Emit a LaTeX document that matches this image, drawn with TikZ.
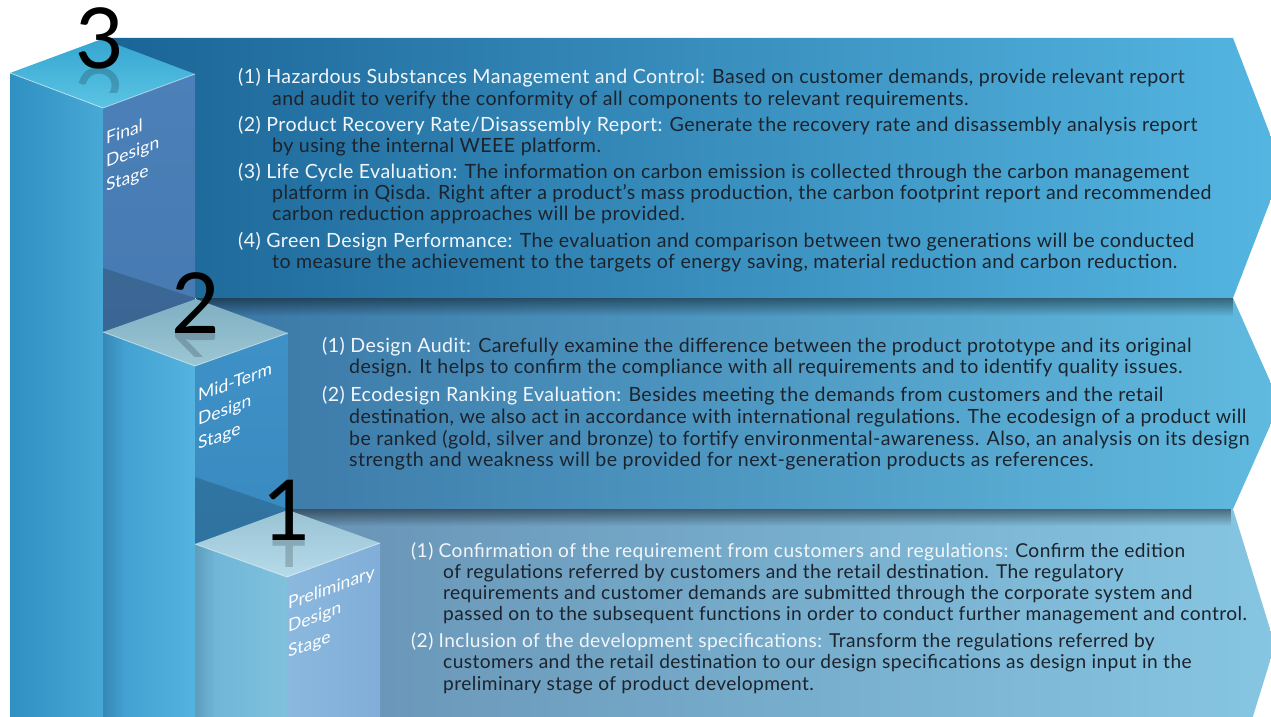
\documentclass[tikz,border=0pt]{standalone}
\usepackage{fontspec}
\setmainfont{Lato}
\newfontfamily\bodyfont[LetterSpace=2.2]{Lato}
\usetikzlibrary{fadings}
\definecolor{bthreel}{HTML}{1A6496}
\definecolor{bthreer}{HTML}{55B6E2}
\definecolor{btwol}{HTML}{3B76A5}
\definecolor{btwor}{HTML}{60BADF}
\definecolor{bonel}{HTML}{6893B5}
\definecolor{boner}{HTML}{86C6E2}
\definecolor{pthreeL}{HTML}{2F90C2}
\definecolor{pthreeLb}{HTML}{48A8D6}
\definecolor{pthreeR}{HTML}{4B80B8}
\definecolor{pthreeRb}{HTML}{3F70A6}
\definecolor{pthreeT}{HTML}{35A6D0}
\definecolor{pthreeTb}{HTML}{5CC4E4}
\definecolor{ptwoL}{HTML}{3E9CCF}
\definecolor{ptwoLb}{HTML}{55B3DF}
\definecolor{ptwoR}{HTML}{3E91C6}
\definecolor{ptwoRb}{HTML}{3583BA}
\definecolor{ptwoT}{HTML}{7FAFC2}
\definecolor{ptwoTb}{HTML}{9CC6D4}
\definecolor{poneL}{HTML}{6CB3D6}
\definecolor{poneLb}{HTML}{80C1DD}
\definecolor{poneR}{HTML}{8AB8DE}
\definecolor{poneRb}{HTML}{80AED8}
\definecolor{poneT}{HTML}{98C2D3}
\definecolor{poneTb}{HTML}{B6DBEA}
\definecolor{titlec}{HTML}{F2F6FA}
\definecolor{bodyc}{HTML}{1C232C}
\newcommand\ttl[1]{\textcolor{titlec}{#1}}
\begin{document}
\begin{tikzpicture}[x=1pt,y=-1pt,
  ln/.style={anchor=base west, inner sep=0pt, text=bodyc, font=\bodyfont\fontsize{19.6}{22}\selectfont},
  lnsmall/.style={ln, font=\bodyfont\fontsize{19.15}{22}\selectfont},
  stagelbl/.style={anchor=base west, inner sep=0pt, text=white, font=\fontsize{17.5}{20}\selectfont, transform shape},
  bignum/.style={anchor=base, inner sep=0pt, text=black, font=\fontsize{84}{84}\selectfont},
  refl/.style={anchor=base, inner sep=0pt, text=black, opacity=0.18, font=\fontsize{84}{84}\selectfont, yscale=-1, transform shape},
  edge/.style={draw=white, draw opacity=0.55, line width=0.8pt},
  topshadow/.style={fill=black, path fading=south, fill opacity=0.45},
  faceshadow/.style={fill=black, fill opacity=0.16},
  leftedge/.style={fill=black, path fading=east, fill opacity=0.12}
]
\useasboundingbox (0,0) rectangle (1271,717);
\clip (0,0) rectangle (1271,717);
\fill[white] (0,0) rectangle (1271,717);

% ---------- band 3 ----------
\path[left color=bthreel, right color=bthreer] (102,38) -- (1233,38) -- (1283,168) -- (1233,298) -- (102,298) -- cycle;

% ---------- pillar 3 ----------
\path[left color=pthreeL, right color=pthreeLb] (10,73) -- (103,108) -- (103,717) -- (10,717) -- cycle;
\path[top color=pthreeR, bottom color=pthreeRb] (103,108) -- (195,74) -- (195,717) -- (103,717) -- cycle;
\path[faceshadow] (103,268) -- (195,298) -- (195,717) -- (103,717) -- cycle;
\path[top color=pthreeT, bottom color=pthreeTb] (10,73) -- (102,39) -- (195,74) -- (103,108) -- cycle;
\draw[edge] (10,73) -- (103,108) -- (195,74);

% ---------- band 2 ----------
\path[left color=btwol, right color=btwor] (196,298) -- (1233,298) -- (1280,403.5) -- (1233,509) -- (196,509) -- cycle;
\path[topshadow] (196,298) rectangle (1233,316);

% ---------- pillar 2 ----------
\path[left color=ptwoL, right color=ptwoLb] (103,332) -- (195,366) -- (195,717) -- (103,717) -- cycle;
\path[leftedge] (103,332) rectangle (125,717);
\path[top color=ptwoR, bottom color=ptwoRb] (195,366) -- (288,333) -- (288,717) -- (195,717) -- cycle;
\path[faceshadow] (195,477) -- (288,509) -- (288,717) -- (195,717) -- cycle;
\path[top color=ptwoT, bottom color=ptwoTb] (103,332) -- (196,299) -- (288,333) -- (195,366) -- cycle;
\draw[edge] (103,332) -- (195,366) -- (288,333);

% ---------- band 1 ----------
\path[left color=bonel, right color=boner] (288,509) -- (1233,509) -- (1275,645) -- (1233,781) -- (288,781) -- cycle;
\path[topshadow] (288,509) rectangle (1233,526);

% ---------- pillar 1 ----------
\path[left color=poneL, right color=poneLb] (195,544) -- (287,577) -- (287,717) -- (195,717) -- cycle;
\path[leftedge] (195,544) rectangle (215,717);
\path[left color=poneR, right color=poneRb] (287,577) -- (380,543) -- (380,717) -- (287,717) -- cycle;
\path[top color=poneT, bottom color=poneTb] (195,544) -- (288,510) -- (380,543) -- (287,577) -- cycle;
\draw[edge] (195,544) -- (287,577) -- (380,543);

% ---------- big numbers with reflections ----------
\begin{scope}
  \clip (60,68) rectangle (140,92);
  \node[refl] (r3) at (100,68) {3};
\end{scope}
\node[bignum] (n3) at (100,68) {3};
\begin{scope}
  \clip (150,333) rectangle (240,356);
  \node[refl] (r2) at (196,333) {2};
\end{scope}
\node[bignum] (n2) at (196,333) {2};
\begin{scope}
  \clip (260,540) rectangle (315,566);
  \node[refl] (r1) at (287,540) {1};
\end{scope}
\node[bignum] (n1) at (287,540) {1};

% ---------- stage labels ----------
\begin{scope}[shift={(106,145)}, yslant=0.37]
  \node[stagelbl] (s3a) at (0,0) {Final};
  \node[stagelbl] (s3b) at (0,23) {Design};
  \node[stagelbl] (s3c) at (0,47) {Stage};
\end{scope}
\begin{scope}[shift={(198,402)}, yslant=0.37]
  \node[stagelbl] (s2a) at (0,0) {Mid-Term};
  \node[stagelbl] (s2b) at (0,24) {Design};
  \node[stagelbl] (s2c) at (0,48) {Stage};
\end{scope}
\begin{scope}[shift={(288,610)}, yslant=0.37]
  \node[stagelbl] (s1a) at (0,0) {Preliminary};
  \node[stagelbl] (s1b) at (0,23) {Design};
  \node[stagelbl] (s1c) at (0,48) {Stage};
\end{scope}

% ---------- block 3 text ----------
\node[ln] (a1) at (238,83.5) {\ttl{(1) Hazardous Substances Management and Control:} Based on customer demands, provide relevant report};
\node[ln] (a2) at (272,105) {and audit to verify the conformity of all components to relevant requirements.};
\node[ln] (a3) at (238,131) {\ttl{(2) Product Recovery Rate/Disassembly Report:} Generate the recovery rate and disassembly analysis report};
\node[ln] (a4) at (272,152) {by using the internal WEEE platform.};
\node[ln] (a5) at (238,178) {\ttl{(3) Life Cycle Evaluation:} The information on carbon emission is collected through the carbon management};
\node[ln] (a6) at (272,199) {platform in Qisda. Right after a product’s mass production, the carbon footprint report and recommended};
\node[ln] (a7) at (272,220) {carbon reduction approaches will be provided.};
\node[ln] (a8) at (238,247) {\ttl{(4) Green Design Performance:} The evaluation and comparison between two generations will be conducted};
\node[ln] (a9) at (272,268) {to measure the achievement to the targets of energy saving, material reduction and carbon reduction.};

% ---------- block 2 text ----------
\node[ln] (b1) at (322,352) {\ttl{(1) Design Audit:} Carefully examine the difference between the product prototype and its original};
\node[ln] (b2) at (349,373) {design. It helps to confirm the compliance with all requirements and to identify quality issues.};
\node[ln] (b3) at (322,401) {\ttl{(2) Ecodesign Ranking Evaluation:} Besides meeting the demands from customers and the retail};
\node[ln] (b4) at (349,423) {destination, we also act in accordance with international regulations. The ecodesign of a product will};
\node[ln] (b5) at (349,445) {be ranked (gold, silver and bronze) to fortify environmental-awareness. Also, an analysis on its design};
\node[ln] (b6) at (349,466) {strength and weakness will be provided for next-generation products as references.};

% ---------- block 1 text ----------
\node[lnsmall] (c1) at (411,557) {\ttl{(1) Confirmation of the requirement from customers and regulations:} Confirm the edition};
\node[lnsmall] (c2) at (443,578) {of regulations referred by customers and the retail destination. The regulatory};
\node[lnsmall] (c3) at (443,599) {requirements and customer demands are submitted through the corporate system and};
\node[lnsmall] (c4) at (443,620) {passed on to the subsequent functions in order to conduct further management and control.};
\node[lnsmall] (c5) at (411,647) {\ttl{(2) Inclusion of the development specifications:} Transform the regulations referred by};
\node[lnsmall] (c6) at (443,668) {customers and the retail destination to our design specifications as design input in the};
\node[lnsmall] (c7) at (443,690) {preliminary stage of product development.};
\end{tikzpicture}
\end{document}
